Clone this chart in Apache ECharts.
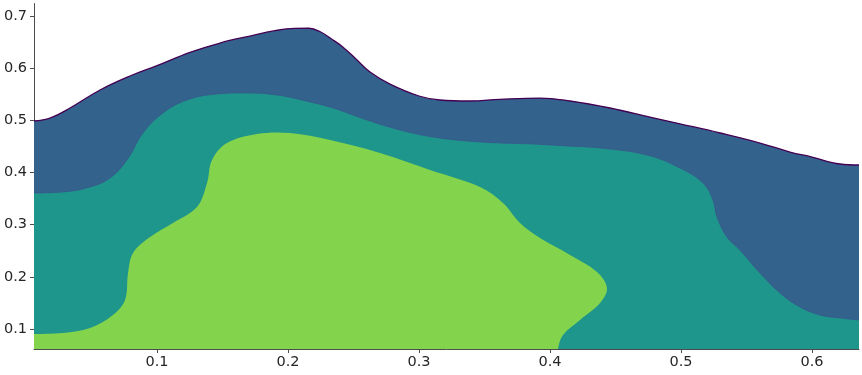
<!DOCTYPE html>
<html>
<head>
<meta charset="utf-8">
<script src="https://cdn.jsdelivr.net/npm/echarts@6/dist/echarts.min.js"></script>
<style>
html,body{margin:0;padding:0;background:#fff;}
#chart{width:862px;height:375px;}
</style>
</head>
<body>
<div id="chart"></div>
<script>
// Axis extents and tick labels
var xRange = [0.0061, 0.6359];
var yRange = [0.0617, 0.7236];
var xTicks = [0.1, 0.2, 0.3, 0.4, 0.5, 0.6];
var yTicks = [0.1, 0.2, 0.3, 0.4, 0.5, 0.6, 0.7];

// Outer contour (lowest level) upper boundary
var outerLevel = [
  [0.0061, 0.4985], [0.0183, 0.5042], [0.0336, 0.5234], [0.0565, 0.5579],
  [0.0794, 0.5847], [0.1000, 0.6045], [0.1252, 0.6300], [0.1481, 0.6479],
  [0.1710, 0.6613], [0.1900, 0.6715], [0.2050, 0.6760], [0.2160, 0.6762],
  [0.2250, 0.6690], [0.2330, 0.6560], [0.2420, 0.6400], [0.2511, 0.6192],
  [0.2626, 0.5923], [0.2779, 0.5693], [0.3000, 0.5464], [0.3160, 0.5387],
  [0.3389, 0.5368], [0.3618, 0.5400], [0.3924, 0.5425], [0.4153, 0.5368],
  [0.4458, 0.5234], [0.4763, 0.5061], [0.5000, 0.4927], [0.5298, 0.4755],
  [0.5603, 0.4563], [0.5832, 0.4391], [0.6000, 0.4295], [0.6214, 0.4161],
  [0.6359, 0.4142]
];

// Middle contour upper boundary
var midLevel = [
  [0.0061, 0.3605], [0.0282, 0.3625], [0.0489, 0.3720], [0.0641, 0.3893],
  [0.0771, 0.4238], [0.0893, 0.4755], [0.1046, 0.5138], [0.1229, 0.5387],
  [0.1458, 0.5502], [0.1656, 0.5521], [0.1916, 0.5483], [0.2168, 0.5349],
  [0.2344, 0.5234], [0.2603, 0.5004], [0.2855, 0.4812], [0.3107, 0.4678],
  [0.3366, 0.4602], [0.3618, 0.4563], [0.3870, 0.4544], [0.4130, 0.4506],
  [0.4382, 0.4467], [0.4740, 0.4333], [0.4992, 0.4084], [0.5168, 0.3797],
  [0.5244, 0.3471], [0.5275, 0.3146], [0.5351, 0.2762], [0.5450, 0.2513],
  [0.5603, 0.2073], [0.5756, 0.1690], [0.5908, 0.1421], [0.6061, 0.1268],
  [0.6214, 0.1211], [0.6359, 0.1172]
];

// Inner contour closed outline (extends below/left of the view, clipped)
var innerLevel = [
  [-0.02, 0.0900], [0.0061, 0.0904], [0.0282, 0.0923], [0.0489, 0.1019],
  [0.0664, 0.1268], [0.0756, 0.1556], [0.0779, 0.2073], [0.0817, 0.2456],
  [0.0947, 0.2762], [0.1122, 0.3031], [0.1305, 0.3337], [0.1382, 0.3797],
  [0.1420, 0.4238], [0.1534, 0.4563], [0.1763, 0.4736], [0.2015, 0.4755],
  [0.2321, 0.4621], [0.2702, 0.4372], [0.3084, 0.4046], [0.3466, 0.3720],
  [0.3641, 0.3414], [0.3771, 0.3031], [0.3924, 0.2743], [0.4153, 0.2418],
  [0.4359, 0.2092], [0.4435, 0.1785], [0.4382, 0.1498], [0.4229, 0.1172],
  [0.4099, 0.0885], [0.4061, 0.0617], [0.4050, 0.0300], [-0.02, 0.0300]
];

var chart = echarts.init(document.getElementById('chart'), null, {renderer: 'canvas'});
var axisFont = {fontFamily: 'DejaVu Sans', fontSize: 14.5, color: '#262626'};
var option = {
  animation: false,
  grid: {left: 34, right: 3, top: 3.5, bottom: 26, containLabel: false},
  xAxis: {
    type: 'value', min: xRange[0], max: xRange[1],
    axisLine: {show: true, lineStyle: {color: '#4d4d4d', width: 1}},
    axisTick: {show: true, length: 4, lineStyle: {color: '#4d4d4d'}, customValues: xTicks},
    axisLabel: Object.assign({margin: 6, customValues: xTicks, formatter: function (v) { return v.toFixed(1); }}, axisFont),
    splitLine: {show: false}
  },
  yAxis: {
    type: 'value', min: yRange[0], max: yRange[1],
    axisLine: {show: true, lineStyle: {color: '#4d4d4d', width: 1}},
    axisTick: {show: true, length: 4, lineStyle: {color: '#4d4d4d'}, customValues: yTicks},
    axisLabel: Object.assign({margin: 7, customValues: yTicks, formatter: function (v) { return v.toFixed(1); }}, axisFont),
    splitLine: {show: false}
  },
  series: [
    {
      type: 'line', data: outerLevel, smooth: 0.4, showSymbol: false, z: 1,
      lineStyle: {color: '#440154', width: 1.3},
      areaStyle: {color: '#33638d', opacity: 1, origin: 'start'}
    },
    {
      type: 'line', data: midLevel, smooth: 0.4, showSymbol: false, z: 2,
      lineStyle: {color: '#3b4f8c', width: 1, opacity: 0.6},
      areaStyle: {color: '#1f968b', opacity: 1, origin: 'start'}
    },
    {
      type: 'custom', z: 3, clip: true,
      data: [0],
      renderItem: function (params, api) {
        var pts = innerLevel.map(function (p) { return api.coord(p); });
        return {
          type: 'polygon',
          shape: {points: pts, smooth: 0.35},
          style: {fill: '#83d44c', stroke: null}
        };
      }
    }
  ]
};
chart.setOption(option);
</script>
</body>
</html>
